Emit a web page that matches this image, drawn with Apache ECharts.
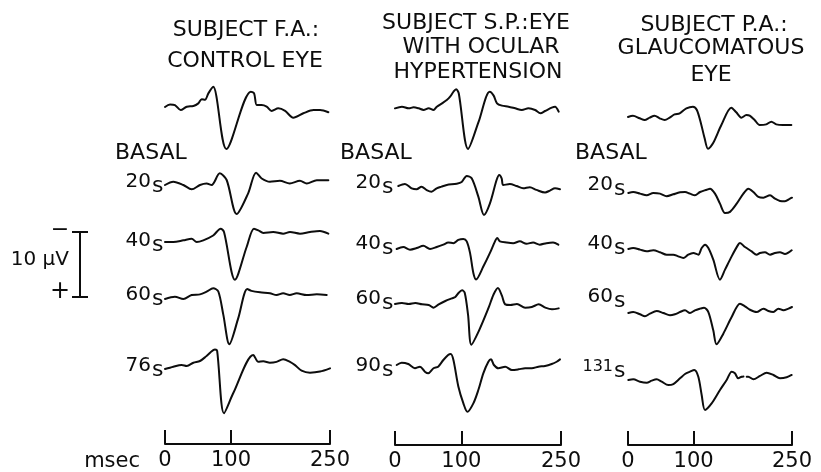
<!DOCTYPE html>
<html>
<head>
<meta charset="utf-8">
<script src="https://cdn.jsdelivr.net/npm/echarts@6/dist/echarts.min.js"></script>
<style>html,body{margin:0;padding:0;background:#fff}#c{width:821px;height:472px}</style>
</head>
<body>
<div id="c"></div>
<script>
// ---------- DATA: [time (msec), amplitude (µV, negative = up)] ----------
const faBasal = [[0,0],[7.6,-0.4],[15,-0.3],[23.7,0.46],[33,-0.05],[43,-0.15],[50.5,-0.56],[55.6,-1.2],[60.6,-1.1],[65.7,-2.1],[73,-3.1],[93,6.46],[130,-2.36],[135,-2.1],[139,-0.3],[146.5,-0.3],[154,-0.05],[161.6,0.6],[171.7,0.2],[182,0.6],[194.4,1.64],[209.6,0.97],[225,0.46],[235,0.46],[247.5,0.8]];
const fa20 = [[0,0],[12.6,-0.5],[27.8,0],[40.4,0.67],[53,0],[63,-0.23],[70.7,0],[83,-1.8],[93.4,-0.77],[108.6,4.46],[126,1.28],[138,-1.9],[146.5,-1.0],[159,-0.5],[174,-0.65],[189,-0.23],[204.5,-0.65],[214.7,-0.23],[230,-0.74],[247.5,-0.74]];
const fa40 = [[0,0],[12.6,0],[27.8,-0.26],[40.4,-0.5],[48,0],[58,-0.26],[73,-1.0],[84.3,-2.05],[89.4,-1.54],[106,5.8],[123.7,0.77],[134.8,-2.05],[141.4,-1.8],[149,-1.4],[164,-1.54],[179,-1.28],[189.4,-1.54],[204.5,-1.28],[219.7,-1.54],[234.8,-1.7],[247.5,-1.28]];
const fa60 = [[0,0.15],[15,-0.2],[27.8,0.15],[40.4,-0.46],[53,-0.56],[63,-0.97],[73,-1.5],[80.8,-1.0],[88.4,2.6],[97.5,7.1],[111,3.1],[124.7,-1.38],[131,-1.1],[144,-0.87],[159,-0.72],[169,-0.46],[179,-0.72],[189,-0.46],[199.5,-0.72],[214.6,-0.46],[230,-0.56],[245,-0.46]];
const fa76 = [[0,0],[12.6,-0.36],[25.3,-0.62],[33,-0.46],[43,-0.97],[53,-1.23],[63,-2.0],[75.8,-3.0],[79,-2.8],[89.4,6.8],[103.5,3.7],[133.8,-2.15],[141.4,-1.1],[149,-1.2],[159,-0.97],[169,-1.1],[179,-1.5],[189.4,-1.1],[197,-0.6],[207,0.26],[219.7,0.56],[234.8,0.4],[250,-0.1]];

const spBasal = [[0,0.05],[10.5,-0.2],[20.6,0.05],[28,-0.1],[35.6,0.05],[43,0.3],[50.7,0.05],[58,0.3],[63,-0.2],[70.8,-0.72],[78,-1.23],[83,-1.74],[88,-2.5],[92,-2.9],[96,-2.26],[110,6.3],[126,2.1],[142.6,-2.5],[148.6,-1.9],[153.6,-0.72],[161,-0.36],[171,-0.2],[181,0.05],[191,0.3],[201,0.05],[211,0.3],[219,0.8],[226,0.46],[236,-0.05],[241,-0.2],[246.5,0.56]];
const sp20 = [[5,0],[15,-0.3],[25,0.36],[32.6,0.5],[40,0.1],[47.7,0.62],[55,0.87],[62.75,0.36],[70,0.1],[78,-0.15],[93,-0.36],[100.4,-0.62],[108,-1.54],[115.5,-1.18],[125.5,1.64],[134,4.46],[143,2.67],[153,-0.92],[157,-1.7],[160.6,-1.18],[163,-0.15],[173,-0.3],[183,0],[193,0.36],[203,0.2],[213,0.6],[226,1.0],[233.4,0.7],[241,0.36],[248.5,0.5]];
const sp40 = [[2.5,0],[12.5,-0.3],[22.6,0.1],[32.7,-0.15],[42.7,-0.5],[52.7,0],[62.8,-0.3],[72.8,-0.67],[80.3,-1.0],[87.9,-0.9],[95.4,-1.4],[102.9,-1.54],[108,-1.18],[113,0.6],[118,3.7],[122,4.7],[133,2.7],[143,0.6],[150.6,-1.18],[154,-1.7],[158,-1.18],[168,-1.0],[178,-0.9],[188,-1.18],[198,-0.8],[208,-1.0],[218,-0.67],[228,-0.9],[238,-1.0],[246,-0.67]];
const sp60 = [[0,0],[10.5,-0.15],[20.6,0],[30.6,-0.15],[40.7,0.05],[50.7,0.15],[58,0.56],[65.8,0.05],[75.8,-0.46],[85.8,-0.87],[90.9,-1.08],[96,-1.74],[101,-2.1],[105,-1.74],[110,1.64],[115,6.26],[126,4.2],[141,0.56],[148.6,-1.5],[155,-2.46],[161,-1.28],[166,0.05],[173.7,0.15],[183.7,0],[196,0.56],[206,0.46],[216.4,0.05],[226.4,0.56],[236.4,0.82],[246.5,0.67]];
const sp90 = [[2.5,0],[10,-0.36],[20,-0.15],[30,0.5],[37.6,0.26],[45,1.03],[50,1.28],[58,0.5],[65,0.26],[72.8,-0.77],[80,-1.54],[84,-1.7],[88,-0.77],[95.4,3.3],[103,5.9],[109,7.2],[118,5.9],[125.5,3.85],[133,1.28],[140.6,-0.5],[144.6,-0.87],[149,0],[155.6,0.5],[166,0.26],[176,0.77],[186,0.67],[196,0.5],[206,0.5],[216,0.26],[226,0.15],[236,-0.15],[243.5,-0.5],[248.5,-0.87]];

const paBasal = [[0,0],[7.6,-0.2],[17.8,0.2],[25.4,0.46],[33,0.1],[40.6,-0.2],[48.3,0.2],[55.9,0.46],[63.5,0.1],[71,-0.41],[78.8,-0.56],[89,-1.33],[99,-1.59],[105,-1.08],[111.8,1.23],[116.8,3.28],[122,4.9],[129.6,4.05],[142.3,1.23],[157.5,-1.44],[165,-0.72],[172.8,0.1],[180.4,-0.3],[185.5,-0.2],[193,0.46],[200.7,1.23],[210.8,1.13],[218.5,0.72],[226,1.13],[236.3,1.23],[249,1.23]];
const pa20 = [[0.5,0],[8,-0.15],[18.3,0.1],[28.5,0.36],[38.6,0],[48.8,0.1],[59,0.5],[69,0.2],[79.3,-0.1],[86.9,-0.15],[94.5,0.1],[102,0.36],[109.8,-0.15],[120,-0.5],[125,-0.67],[132.6,0.1],[140.2,1.64],[147.9,3.08],[155.5,2.9],[165.7,1.64],[175.9,0.1],[183.5,-0.67],[191.1,-0.15],[198.8,0.6],[206.4,0.72],[216.5,0.36],[224,0.87],[231.7,1.23],[239.3,1.28],[247,0.87],[250,0.72]];
const pa40 = [[0.5,0],[8,-0.15],[18.3,0.1],[28.5,0.36],[38.6,0.2],[48.8,0.5],[59,0.87],[69,0.87],[76.6,1.13],[84.3,1.38],[91.9,0.87],[99.6,0.62],[107.2,0.87],[112.3,-0.15],[117.4,-0.67],[122.5,-0.15],[130,1.64],[140.2,4.72],[147.9,3.18],[158,1.13],[168,-0.67],[170.7,-0.92],[178.3,-0.3],[188.5,0.36],[196,0.87],[201.2,0.62],[208.8,0.5],[216.5,0.87],[224,0.62],[231.7,0.5],[239.3,0.77],[249.5,0.2]];
const pa60 = [[0.5,0],[8,-0.15],[18.3,0.2],[25.9,0.5],[33.5,0.1],[43.7,-0.3],[53.8,0],[64,0.36],[71.6,0.2],[79.3,-0.15],[86.9,-0.41],[94.5,0],[102,-0.41],[109.8,-0.67],[115.9,-0.82],[122.5,-0.15],[130,2.67],[135,4.82],[145.3,3.18],[158,0.62],[170.7,-1.44],[178.3,-1.03],[185.9,-0.5],[196,-0.15],[206.4,-0.67],[214,-0.3],[221.6,-0.15],[229.3,-0.67],[236.9,-0.41],[244.6,-0.67],[250,-0.92]];
const pa131 = [[0.5,0],[8,-0.1],[18.3,0.26],[28.5,0.41],[36.1,0.1],[43.7,-0.1],[51.4,0.26],[61.5,0.77],[69.1,0.62],[79.3,-0.26],[86.9,-0.92],[94.5,-1.28],[101.1,-1.54],[107.2,-0.5],[112.3,2.3],[117.4,4.6],[127.5,3.6],[140.2,1.54],[150.4,0],[158,-1.28],[163,-1.03],[168,-0.26],[173.2,-0.5],[176,-0.55],[177.5,'-'],[181,-0.5],[183.4,-0.5],[191,-0.1],[201.2,-0.62],[211.4,-1.13],[221.6,-0.77],[231.7,-0.26],[241.9,-0.41],[249.5,-0.77]];

const columnTitles = [
  ['SUBJECT F.A.:', 'CONTROL EYE'],
  ['SUBJECT S.P.:EYE', 'WITH OCULAR', 'HYPERTENSION'],
  ['SUBJECT P.A.:', 'GLAUCOMATOUS', 'EYE']
];
const basalLabel = 'BASAL';
const rowTimes = [['20','40','60','76'], ['20','40','60','90'], ['20','40','60','131']];
const timeTicks = [0, 100, 250];
const scaleBarUV = 10;

// ---------- LAYOUT ----------
const colLeft = [165, 395, 628], colWidth = [165, 166, 164];
const rowBase = [[107,185,242,298,369],[108,186,249,304,365],[117,193,249,313,380]];
const PX_PER_UV = 6.5, YMIN = -6, YMAX = 12;
const FONT = '"DejaVu Sans", sans-serif';
const INK = '#0d0d0d';

const traces = [[faBasal,fa20,fa40,fa60,fa76],[spBasal,sp20,sp40,sp60,sp90],[paBasal,pa20,pa40,pa60,pa131]];
const grids = [], xAxes = [], yAxes = [], series = [];

traces.forEach((col, c) => col.forEach((d, r) => {
  const i = grids.length;
  grids.push({left: colLeft[c], width: colWidth[c], top: rowBase[c][r] + YMIN * PX_PER_UV, height: (YMAX - YMIN) * PX_PER_UV});
  xAxes.push({type: 'value', gridIndex: i, min: 0, max: 250, show: false});
  yAxes.push({type: 'value', gridIndex: i, min: YMIN, max: YMAX, inverse: true, show: false});
  series.push({type: 'line', xAxisIndex: i, yAxisIndex: i, data: d, showSymbol: false, smooth: 0.3,
    lineStyle: {color: INK, width: 2, join: 'round', cap: 'round'}, clip: false, silent: true, animation: false});
}));

// time axes
const axisY = [444, 445, 447];
colLeft.forEach((l, c) => {
  const i = grids.length;
  grids.push({left: l, width: colWidth[c], top: axisY[c] - 20, height: 20});
  xAxes.push({type: 'value', gridIndex: i, min: 0, max: 250, position: 'bottom',
    axisLine: {show: true, lineStyle: {color: INK, width: 2}},
    axisTick: {show: true, inside: true, length: 14, customValues: timeTicks, lineStyle: {color: INK, width: 2}},
    axisLabel: {show: true, customValues: timeTicks, fontSize: 21, color: INK, margin: 6, fontFamily: FONT, showMinLabel: true, showMaxLabel: true},
    splitLine: {show: false}});
  yAxes.push({type: 'value', gridIndex: i, min: 0, max: 1, show: false});
});

// 10 µV scale bar
{
  const i = grids.length;
  grids.push({left: 80, top: 232, width: 10, height: 65});
  xAxes.push({type: 'value', gridIndex: i, min: 0, max: 1, show: false});
  [false, true].forEach(inside => yAxes.push({type: 'value', gridIndex: i, min: 0, max: scaleBarUV, interval: scaleBarUV, inverse: true, position: 'left',
    axisLine: {show: true, lineStyle: {color: INK, width: 2}},
    axisTick: {show: true, inside: inside, length: 8, lineStyle: {color: INK, width: 2}},
    axisLabel: {show: false}, splitLine: {show: false}}));
}

// ---------- TEXT ----------
const graphic = [];
function txt(text, x, y, size, align) {
  graphic.push({type: 'text', x: x, y: y, silent: true,
    style: {text: text, font: size + 'px ' + FONT, fill: INK, align: align || 'center', verticalAlign: 'middle'}});
}
const titlePos = [[[246,30],[245,61]], [[476,23],[481,47],[478,72]], [[714,25],[711,48],[711,75]]];
columnTitles.forEach((lines, c) => lines.forEach((t, k) => txt(t, titlePos[c][k][0], titlePos[c][k][1], 22)));
[[115,153],[340,153],[575,153]].forEach(p => txt(basalLabel, p[0], p[1], 22, 'left'));
const labelX = [151, 381, 613];
const labelY = [[182,241,295,366],[183,244,299,366],[185,244,297,367]];
rowTimes.forEach((rows, c) => rows.forEach((t, r) => {
  txt(t, labelX[c], labelY[c][r], t.length > 2 ? 16 : 20, 'right');
  txt('s', labelX[c] + 1, labelY[c][r] + 4, 22, 'left');
}));
txt('−', 60, 230, 22);
txt('+', 60, 292, 24);
txt('10 µV', 69, 260, 20, 'right');
txt('msec', 140, 462, 21, 'right');

const chart = echarts.init(document.getElementById('c'), null, {renderer: 'canvas'});
chart.setOption({
  backgroundColor: '#fff',
  animation: false,
  grid: grids, xAxis: xAxes, yAxis: yAxes, series: series,
  graphic: graphic
});
</script>
</body>
</html>
